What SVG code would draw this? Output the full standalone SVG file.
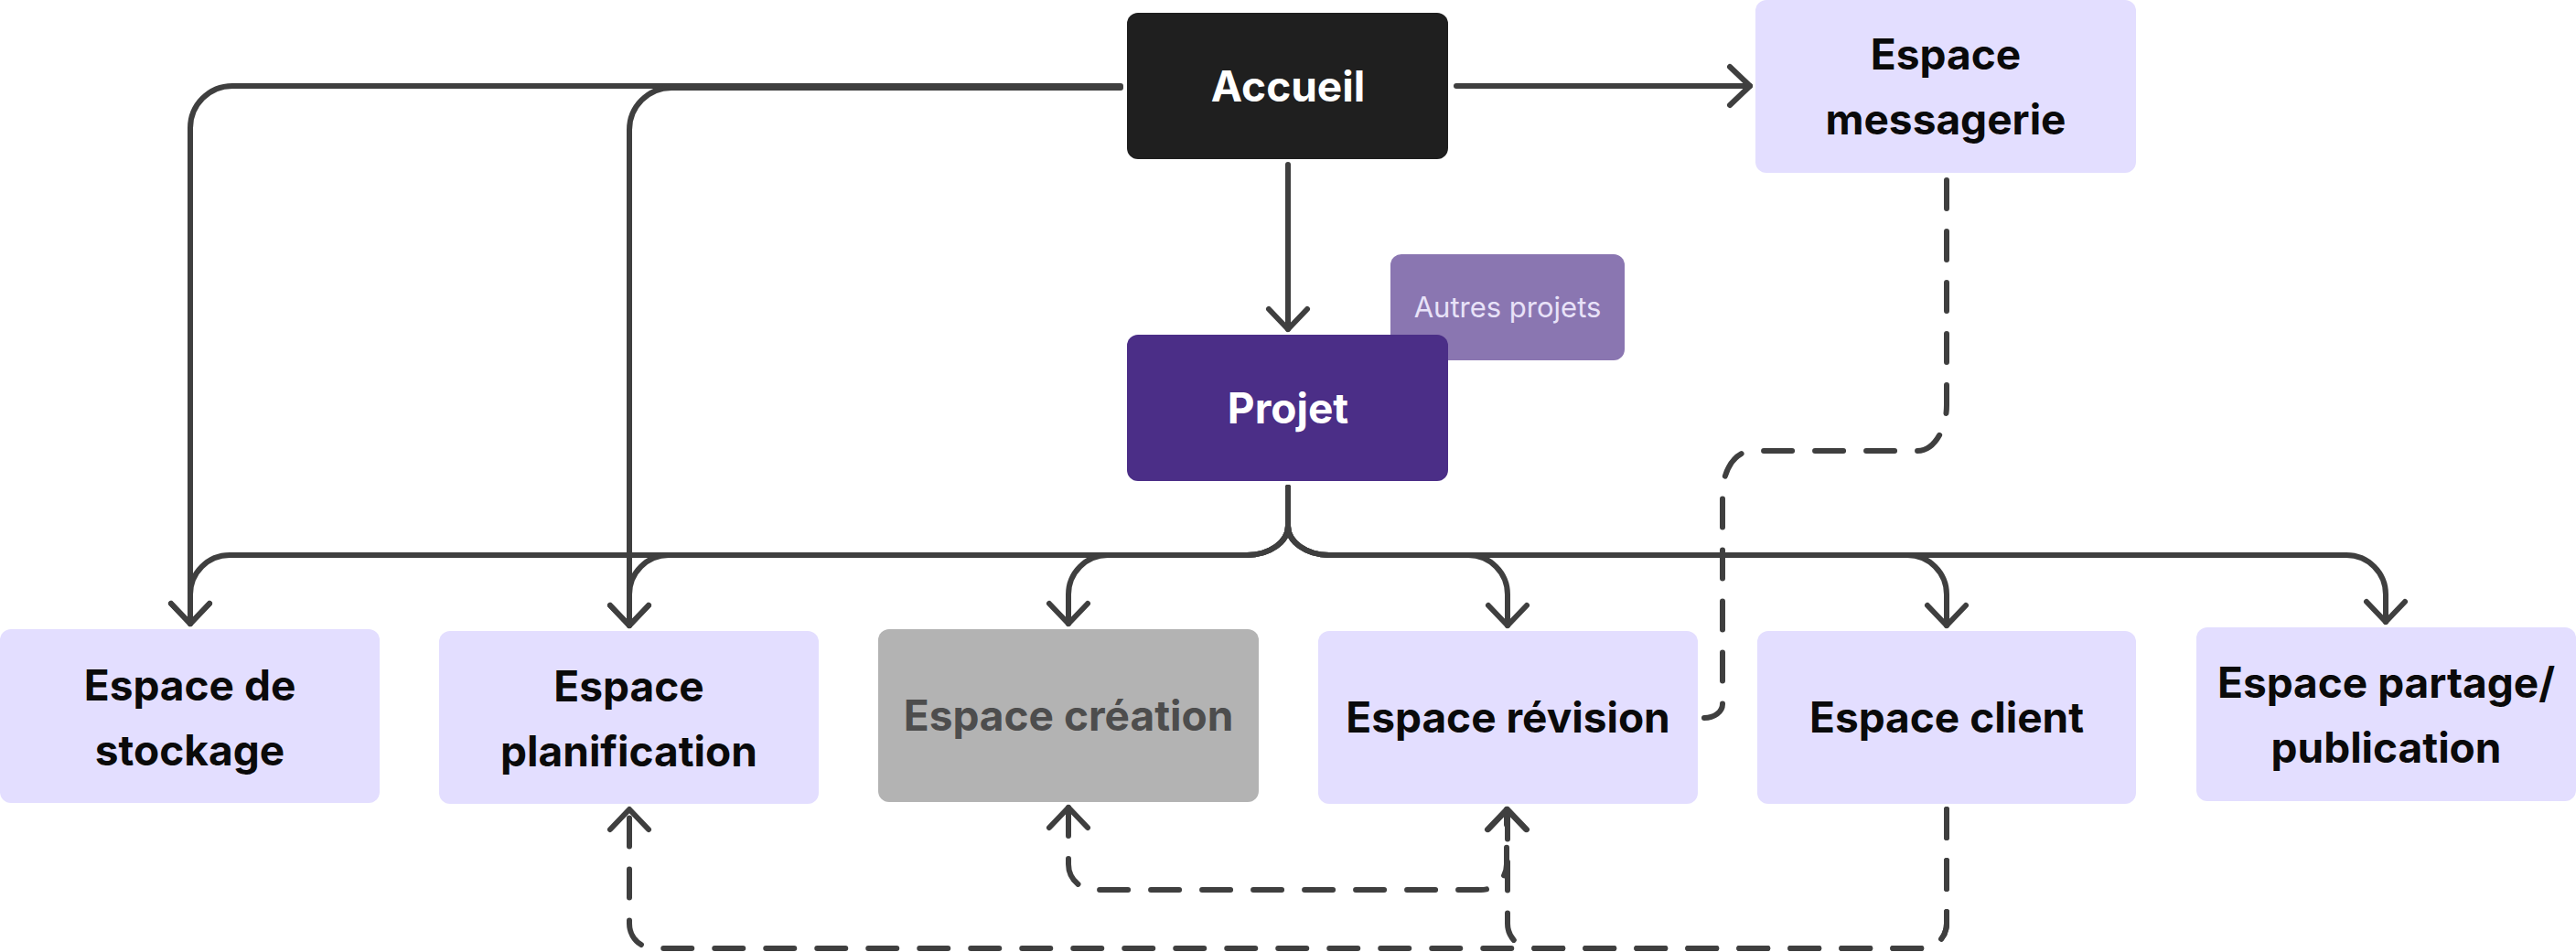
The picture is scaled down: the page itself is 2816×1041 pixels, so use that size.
<svg xmlns="http://www.w3.org/2000/svg" width="2816" height="1041" viewBox="0 0 2816 1041">
<defs>
<style>
.lbl{font-family:Inter,"Noto Sans","Liberation Sans",sans-serif;font-weight:700;font-size:46px;text-anchor:middle;fill:#0a0a0a}
.lav{fill:#E3DEFF}
.solid{fill:none;stroke:#3f3f3f;stroke-width:6;stroke-linecap:round;stroke-linejoin:round}
.dash{fill:none;stroke:#3f3f3f;stroke-width:6;stroke-linecap:round;stroke-linejoin:round;stroke-dasharray:31 25}
</style>
<marker id="ah" markerUnits="userSpaceOnUse" markerWidth="60" markerHeight="60" viewBox="-30 -30 60 60" refX="0" refY="0" orient="auto-start-reverse" overflow="visible">
<path d="M -22 -21 L 0 0 L -22 21" fill="none" stroke="#3f3f3f" stroke-width="6" stroke-linecap="round" stroke-linejoin="round" stroke-dasharray="none"/>
</marker>
</defs>
<rect width="2816" height="1041" fill="#ffffff"/>

<g id="connectors">
<path class="solid" d="M 1592 94 L 1913 94" marker-end="url(#ah)"/>
<path class="solid" d="M 1408 180 L 1408 360" marker-end="url(#ah)"/>
<path class="solid" d="M 1225 94 L 254 94 A 46 46 0 0 0 208 140 L 208 682" marker-end="url(#ah)"/>
<path class="solid" d="M 1225 96 L 734 96 A 46 46 0 0 0 688 142 L 688 684" marker-end="url(#ah)"/>
<path class="solid" d="M 1408 533 L 1408 575 A 45 32 0 0 1 1363 607 L 251 607 A 43 43 0 0 0 208 650 L 208 682" marker-end="url(#ah)"/>
<path class="solid" d="M 1408 533 L 1408 575 A 45 32 0 0 1 1363 607 L 731 607 A 43 43 0 0 0 688 650 L 688 684" marker-end="url(#ah)"/>
<path class="solid" d="M 1408 533 L 1408 575 A 45 32 0 0 1 1363 607 L 1211 607 A 43 43 0 0 0 1168 650 L 1168 682" marker-end="url(#ah)"/>
<path class="solid" d="M 1408 533 L 1408 575 A 45 32 0 0 0 1453 607 L 1605 607 A 43 43 0 0 1 1648 650 L 1648 684" marker-end="url(#ah)"/>
<path class="solid" d="M 1408 533 L 1408 575 A 45 32 0 0 0 1453 607 L 2085 607 A 43 43 0 0 1 2128 650 L 2128 684" marker-end="url(#ah)"/>
<path class="solid" d="M 1408 533 L 1408 575 A 45 32 0 0 0 1453 607 L 2565 607 A 43 43 0 0 1 2608 650 L 2608 680" marker-end="url(#ah)"/>
<path class="dash" d="M 2128 197 L 2128 443 A 32 50 0 0 1 2096 493 L 1915 493 A 32 47 0 0 0 1883 540 L 1883 770 A 20 15 0 0 1 1863 785"/>
<path class="dash" d="M 1168 883 L 1168 945 A 28 28 0 0 0 1196 973 L 1619 973 A 28 28 0 0 0 1647 945 L 1647 885" marker-start="url(#ah)" marker-end="url(#ah)"/>
<path class="dash" d="M 2128 885 L 2128 1010 A 27 27 0 0 1 2101 1037 L 1675 1037 A 27 27 0 0 1 1648 1010 L 1648 885" marker-end="url(#ah)"/>
<path class="dash" d="M 2128 885 L 2128 1010 A 27 27 0 0 1 2101 1037 L 715 1037 A 27 27 0 0 1 688 1010 L 688 885" marker-end="url(#ah)"/>
</g>

<g id="accueil">
<rect x="1232" y="14" width="351" height="160" rx="12" fill="#1F1F1F"/>
<text class="lbl" x="1408" y="111" style="fill:#ffffff">Accueil</text>
</g>
<g id="messagerie">
<rect class="lav" x="1919" y="0" width="416" height="189" rx="12"/>
<text class="lbl" x="2127" y="76">Espace</text>
<text class="lbl" x="2127" y="147">messagerie</text>
</g>
<g id="autres-projets">
<rect x="1520" y="278" width="256" height="116" rx="12" fill="#8A76B1"/>
<text x="1648" y="347" font-family="Inter,'Noto Sans','Liberation Sans',sans-serif" font-size="31" text-anchor="middle" fill="#E8E2F8">Autres projets</text>
</g>
<g id="projet">
<rect x="1232" y="366" width="351" height="160" rx="12" fill="#4B2E87"/>
<text class="lbl" x="1408" y="463" style="fill:#ffffff">Projet</text>
</g>
<g id="stockage">
<rect class="lav" x="0" y="688" width="415" height="190" rx="12"/>
<text class="lbl" x="207.5" y="766">Espace de</text>
<text class="lbl" x="207.5" y="837">stockage</text>
</g>
<g id="planification">
<rect class="lav" x="480" y="690" width="415" height="189" rx="12"/>
<text class="lbl" x="687.5" y="767">Espace</text>
<text class="lbl" x="687.5" y="838">planification</text>
</g>
<g id="creation">
<rect x="960" y="688" width="416" height="189" rx="12" fill="#B3B3B3"/>
<text class="lbl" x="1168" y="799" style="fill:#4D4D4D">Espace création</text>
</g>
<g id="revision">
<rect class="lav" x="1441" y="690" width="415" height="189" rx="12"/>
<text class="lbl" x="1648.5" y="801">Espace révision</text>
</g>
<g id="client">
<rect class="lav" x="1921" y="690" width="414" height="189" rx="12"/>
<text class="lbl" x="2128" y="801">Espace client</text>
</g>
<g id="partage">
<rect class="lav" x="2401" y="686" width="415" height="190" rx="12"/>
<text class="lbl" x="2608.5" y="763">Espace partage/</text>
<text class="lbl" x="2608.5" y="834">publication</text>
</g>
</svg>
